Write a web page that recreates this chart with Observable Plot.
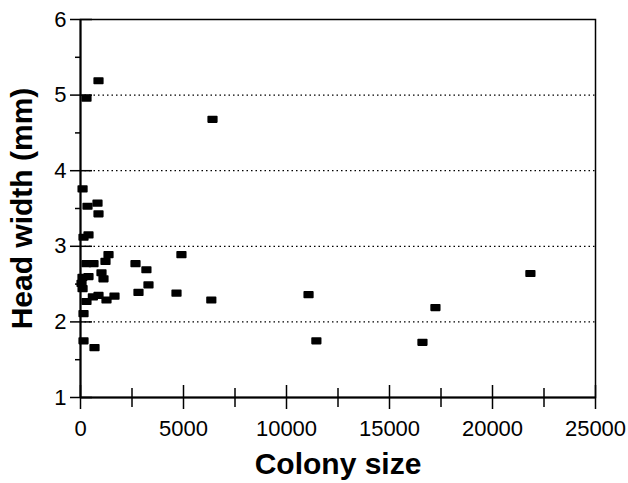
<!DOCTYPE html>
<html>
<head>
<meta charset="utf-8">
<script src="https://cdn.jsdelivr.net/npm/d3@7"></script>
<script src="https://cdn.jsdelivr.net/npm/@observablehq/plot@0.6"></script>
<style>
  html, body { margin: 0; padding: 0; background: #fff; }
  #chart svg { display: block; }
</style>
</head>
<body>
<div id="chart"></div>
<script>
const xLabel = "Colony size";
const yLabel = "Head width (mm)";
const colonySize = [874, 291, 6408, 100, 340, 825, 874, 146, 388, 1360, 1213, 291, 631, 2670, 4900, 3200, 1019, 1116, 97, 388, 50, 100, 3300, 2815, 4660, 6350, 290, 600, 874, 1262, 1650, 146, 146, 680, 11070, 11450, 17230, 16600, 21840];
const headWidth  = [5.19, 4.96, 4.68, 3.76, 3.53, 3.57, 3.43, 3.12, 3.15, 2.89, 2.80, 2.77, 2.77, 2.77, 2.89, 2.69, 2.65, 2.57, 2.59, 2.60, 2.51, 2.44, 2.49, 2.39, 2.38, 2.29, 2.27, 2.33, 2.35, 2.29, 2.34, 2.11, 1.75, 1.66, 2.36, 1.75, 2.19, 1.73, 2.64];
const xTicks = [0, 5000, 10000, 15000, 20000, 25000];
const xMinorTicks = [2500, 7500, 12500, 17500, 22500];
const yTicks = [1, 2, 3, 4, 5, 6];
const yMinorTicks = [1.5, 2.5, 3.5, 4.5, 5.5];
const yGrid = [2, 3, 4, 5];

const data = colonySize.map((x, i) => ({x, y: headWidth[i]}));

const W = 628, H = 483, ML = 80, MR = 33, MT = 19, MB = 86;
const frameW = W - ML - MR, frameH = H - MT - MB;

const squareSymbol = {
  draw(context) {
    context.moveTo(-4.3, -2.8);
    context.lineTo(4.3, -2.8);
    context.lineTo(4.3, 2.8);
    context.lineTo(-4.3, 2.8);
    context.closePath();
  }
};

const font = "'Liberation Sans', Arial, Helvetica, sans-serif";

const chart = Plot.plot({
  width: W,
  height: H,
  marginLeft: ML,
  marginRight: MR,
  marginTop: MT,
  marginBottom: MB,
  style: {background: "#fff", color: "#000", fontFamily: font},
  x: {domain: [0, 25000]},
  y: {domain: [1, 6]},
  marks: [
    Plot.gridY(yGrid, {stroke: "#000", strokeOpacity: 1, strokeWidth: 1.2, strokeDasharray: "1.5,3"}),
    Plot.frame({stroke: "#000", strokeWidth: 1.5}),
    Plot.ruleY([1], {stroke: "#000", strokeWidth: 2}),
    Plot.ruleX([0], {stroke: "#000", strokeWidth: 2}),
    Plot.axisY(yTicks, {anchor: "left", tickSize: 10, tickPadding: 4, fontSize: 22, strokeWidth: 1.5, tickFormat: d => d, label: null}),
    Plot.tickY(yTicks, {y: d => d, insetRight: frameW - 12, stroke: "#000", strokeWidth: 1.5}),
    Plot.axisY(yMinorTicks, {anchor: "left", tickSize: 5, text: null, strokeWidth: 1.5, label: null}),
    Plot.axisX(xTicks, {anchor: "bottom", tickSize: 12, tickPadding: 11, fontSize: 22, strokeWidth: 1.5, tickFormat: d => String(d), label: null}),
    Plot.tickX(xTicks, {x: d => d, insetTop: frameH - 12, stroke: "#000", strokeWidth: 1.5}),
    Plot.axisX(xMinorTicks, {anchor: "bottom", tickSize: 10, text: null, strokeWidth: 1.5, label: null}),
    Plot.tickX(xMinorTicks, {x: d => d, insetTop: frameH - 9, stroke: "#000", strokeWidth: 1.5}),
    Plot.dot(data, {x: "x", y: "y", symbol: squareSymbol, fill: "#000", stroke: "#000", strokeWidth: 1.6, strokeLinejoin: "round"}),
    Plot.text([xLabel], {frameAnchor: "bottom", text: d => d, dy: 76, fontSize: 30, fontWeight: "bold", fill: "#000"}),
    Plot.text([yLabel], {frameAnchor: "left", text: d => d, rotate: -90, textAnchor: "middle", dx: -58, fontSize: 30, fontWeight: "bold", fill: "#000"})
  ]
});
document.getElementById("chart").appendChild(chart);
</script>
</body>
</html>
